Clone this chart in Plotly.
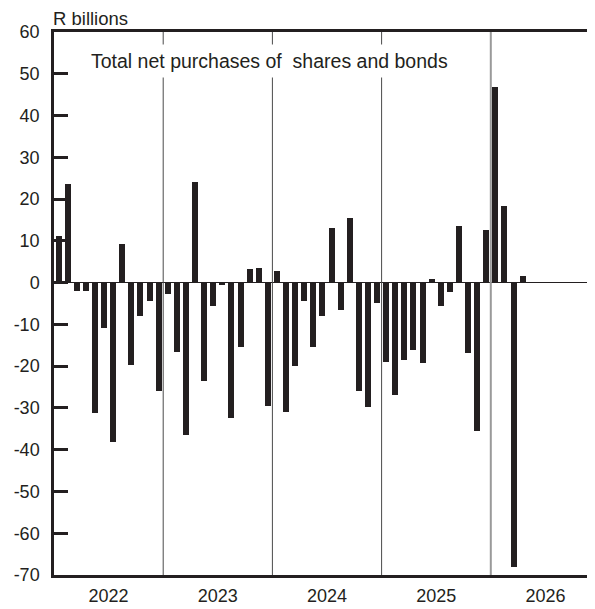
import plotly.graph_objects as go

# Monthly total net purchases of shares and bonds (R billions)
years = ["2022", "2023", "2024", "2025", "2026"]
values_2022 = [11.1, 23.7, -2.0, -2.0, -31.2, -10.9, -38.1, 9.2, -19.8, -8.0, -4.4, -25.9]
values_2023 = [-2.7, -16.7, -36.5, 24.0, -23.5, -5.7, -0.6, -32.4, -15.5, 3.2, 3.4, -29.6]
values_2024 = [2.7, -31.0, -20.0, -4.5, -15.5, -8.0, 13.0, -6.6, 15.4, -26.0, -29.8, -4.9]
values_2025 = [-19.0, -26.9, -18.6, -16.2, -19.3, 0.8, -5.7, -2.3, 13.5, -16.9, -35.5, 12.5]
values_2026 = [46.9, 18.4, -68.1, 1.5]

y_ticks = [60, 50, 40, 30, 20, 10, 0, -10, -20, -30, -40, -50, -60, -70]

all_values = values_2022 + values_2023 + values_2024 + values_2025 + values_2026
x_pos = [i + 0.5 for i in range(len(all_values))]

INK = "#231f20"
FONT = "Liberation Sans, Arial, sans-serif"

fig = go.Figure()
fig.add_trace(go.Bar(
    x=x_pos, y=all_values, width=0.66,
    marker=dict(color=INK, line=dict(width=0)),
    hoverinfo="y",
))

# year separators
shapes = []
for k in range(1, len(years)):
    last = k == len(years) - 1
    shapes.append(dict(
        type="line", xref="x", yref="paper", x0=12 * k, x1=12 * k, y0=0, y1=1,
        line=dict(color="#9a9a9a" if last else "#4a4a4a", width=2 if last else 1),
        layer="above",
    ))

fig.update_layout(
    width=595, height=609,
    margin=dict(l=46, r=0, t=24, b=42),
    paper_bgcolor="white", plot_bgcolor="white",
    showlegend=False,
    bargap=0,
    font=dict(family=FONT, size=18, color=INK),
    shapes=shapes,
    xaxis=dict(
        range=[0, 60.33],
        tickmode="array",
        tickvals=[12 * i + 6 for i in range(len(years))],
        ticktext=years,
        ticks="",
        showgrid=False,
        zeroline=False,
        showline=True, mirror=True, linecolor=INK, linewidth=2.5,
        tickfont=dict(family=FONT, size=18, color=INK),
        automargin=False,
        ticklabelstandoff=3,
    ),
    yaxis=dict(
        range=[-70, 60],
        tickmode="array",
        tickvals=y_ticks,
        ticktext=[str(v) for v in y_ticks],
        ticks="inside", ticklen=14, tickwidth=2.5, tickcolor=INK,
        showgrid=False,
        zeroline=True, zerolinecolor=INK, zerolinewidth=1,
        showline=True, linecolor=INK, linewidth=2.5,
        tickfont=dict(family=FONT, size=18, color=INK),
        automargin=False,
        ticklabelstandoff=8,
    ),
    annotations=[
        dict(text="R billions", xref="paper", yref="paper", x=0, y=1,
             xanchor="left", yanchor="bottom", yshift=1, xshift=-3, showarrow=False,
             font=dict(family=FONT, size=18.5, color=INK)),
        dict(text="Total net purchases of  shares and bonds", xref="paper", yref="paper",
             x=0.392, y=0.947, xanchor="center", yanchor="middle", showarrow=False,
             bgcolor="white", borderpad=5,
             font=dict(family=FONT, size=19.5, color=INK)),
    ],
)

fig.write_html("out.html")
